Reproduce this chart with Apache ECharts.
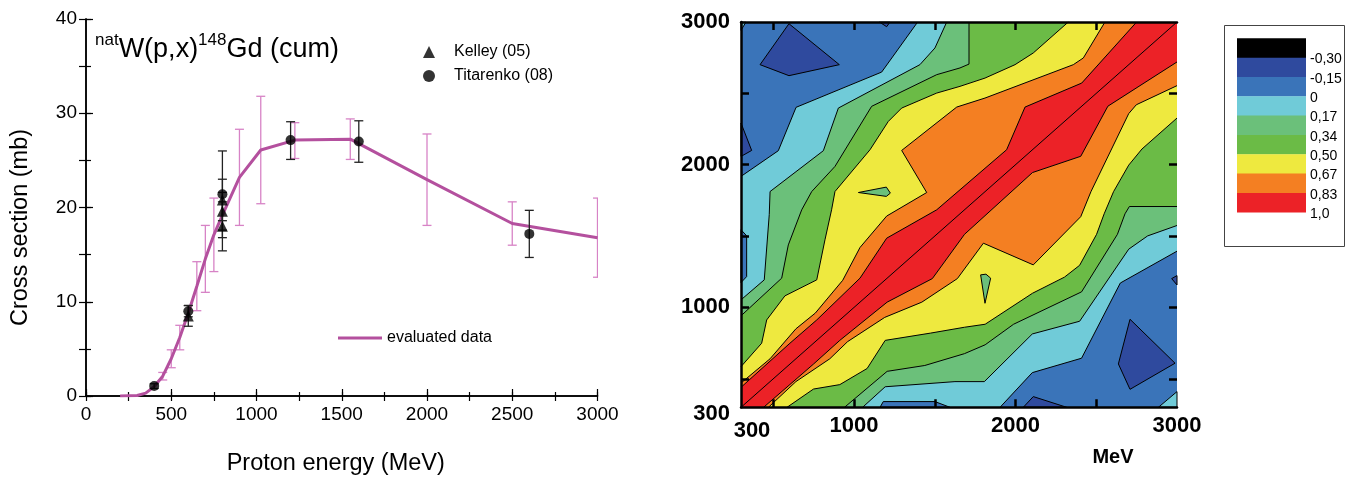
<!DOCTYPE html>
<html><head><meta charset="utf-8">
<script src="https://cdn.jsdelivr.net/npm/echarts@6/dist/echarts.min.js"></script>
<style>html,body{margin:0;padding:0;background:#fff}#c{width:1370px;height:482px}</style>
</head><body><div id="c"></div>
<script>
// ---------- Left panel data ----------
const evalPoints = [[200,0],[300,0.05],[350,0.3],[400,1.0],[450,2.1],[500,3.95],[550,6.2],[600,8.8],[650,11.65],[700,14.55],[750,17.1],[800,19.2],[900,23.2],[1025,26.1],[1225,27.15],[1550,27.25],[2000,22.95],[2500,18.3],[3000,16.8]];
const evalErrors = [[450,1.7,2.5],[500,3.0,4.9],[550,4.9,7.5],[650,9.05,14.25],[700,11.0,18.1],[750,13.2,21.0],[900,18.1,28.3],[1025,20.4,31.8],[1225,25.2,29.0],[1550,25.1,29.4],[2000,18.1,27.8],[2500,16.0,20.6],[3000,12.6,21.0]];
const kelleyPoints = [[600,8.5],[800,20.8],[800,19.6],[800,18.0]];
const kelleyErrors = [[600,7.4,9.6],[800,18.6,23.0],[800,17.6,21.6],[800,15.4,20.6]];
const titarenkoPoints = [[400,1.06],[600,9.0],[800,21.4],[1200,27.15],[1600,27.0],[2600,17.2]];
const titarenkoErrors = [[400,0.8,1.3],[600,8.4,9.6],[800,16.8,26.0],[1200,25.1,29.1],[1600,24.8,29.2],[2600,14.7,19.7]];

// ---------- Right panel data (correlation contours, MeV x MeV) ----------
const levelLabels = ['-0,30','-0,15','0','0,17','0,34','0,50','0,67','0,83','1,0'];
const bandColors = ['#000000','#2F4A9E','#3A74B9','#70CBD8','#6BC07A','#6BBB46','#EEE93F','#F47F22','#EC2227'];
// boundaries: upper-left (ul) and lower-right (lr) lines of each superlevel band
const ul000 = [[300,1918],[531,2098],[641,2402],[1171,2649],[1394,3000]];
const lr000 = [[1904,300],[2104,543],[2409,644],[2649,1171],[3000,1394]];
const ul017 = [[300,1053],[444,1193],[475,1651],[480,1812],[810,2098],[903,2397],[1408,2701],[1501,2818],[1574,3000]];
const lr017 = [[1053,300],[1193,444],[1625,480],[1807,480],[2104,814],[2397,903],[2701,1408],[2818,1501],[3000,1574]];
const ul034 = [[300,941],[552,1205],[593,1438],[676,1684],[738,1812],[882,1988],[1109,2409],[1512,2631],[1656,2678],[1712,2705],[1712,3000]];
const lr034 = [[941,300],[1205,552],[1438,593],[1684,676],[1812,738],[1988,882],[2409,1109],[2631,1512],[2678,1656],[2705,1707],[3000,1707]];
const ul050 = [[300,585],[428,749],[459,912],[572,1081],[769,1193],[820,1474],[861,1684],[882,1812],[1099,2105],[1212,2303],[1295,2397],[1512,2502],[1656,2549],[1811,2607],[1997,2701],[2110,2783],[2327,3000]];
const lr050 = [[585,300],[749,428],[912,459],[1081,572],[1193,769],[1474,820],[1684,861],[1812,882],[2105,1099],[2303,1212],[2397,1295],[2502,1512],[2549,1656],[2607,1811],[2701,1997],[2783,2110],[3000,2327]];
const ul067 = [[300,470],[480,640],[640,850],[760,960],[930,1190],[1037,1420],[1202,1640],[1450,1805],[1295,2100],[1636,2404],[1811,2467],[2358,2701],[2420,2748],[2554,3000]];
const lr067 = [[470,300],[640,480],[850,640],[960,760],[1190,930],[1420,1037],[1640,1202],[1801,1450],[2110,1298],[2404,1636],[2467,1811],[2701,2358],[2748,2420],[3000,2554]];
const ul083 = [[300,440],[603,749],[769,912],[1037,1205],[1202,1485],[1512,1684],[1945,2105],[2059,2404],[2410,2572],[2750,3000]];
const lr083 = [[440,300],[749,603],[912,769],[1205,1037],[1485,1202],[1684,1512],[2105,1945],[2404,2059],[2572,2410],[3000,2720]];
const diagonal = [[300,300],[3000,3000]];
// islands: [band index, outline]
const islands = [
  [3, [[300,2942],[331,3000],[300,3000]]],
  [3, [[2885,300],[3000,410],[3000,300]]],
  [1, [[418,2701],[597,2988],[909,2701],[597,2624]]],
  [1, [[2637,604],[2709,917],[2988,609],[2709,426]]],
  [1, [[300,2292],[366,2100],[300,2058]]],
  [1, [[2048,300],[2110,375],[2317,300]]],
  [1, [[1157,3000],[1202,2967],[1223,3000]]],
  [1, [[3000,1157],[2967,1202],[3000,1223]]],
  [2, [[300,1544],[335,1502],[335,1216],[300,1174]]],
  [2, [[1161,300],[1181,340],[1501,340],[1594,300]]],
  [4, [[1027,1805],[1200,1843],[1225,1801],[1200,1778]]],
  [4, [[1784,1228],[1817,1233],[1846,1205],[1811,1029]]]
];
const contourBands = [[3, ul000, lr000],[4, ul017, lr017],[5, ul034, lr034],[6, ul050, lr050],[7, ul067, lr067],[8, ul083, lr083]];
const rightTicks = [500,1000,1500,2000,2500];
const rightLabels = [300,1000,2000,3000];

// ---------- build ----------
const FONT = 'Liberation Sans, Arial, sans-serif';
const chart = echarts.init(document.getElementById('c'), null, {renderer:'canvas'});
const EVAL_COLOR = '#B4509E', EVAL_ERR = '#D783C6';
const RX = 3, RY = 3; // right-panel axis indices

function errRender(capHalf, color, width) {
  return function (params, api) {
    const x = api.value(0), lo = api.value(1), hi = api.value(2);
    const a = api.coord([x, lo]), b = api.coord([x, hi]);
    const st = {stroke: color, lineWidth: width};
    return {type:'group', children:[
      {type:'line', shape:{x1:a[0],y1:a[1],x2:b[0],y2:b[1]}, style:st},
      {type:'line', shape:{x1:a[0]-capHalf,y1:a[1],x2:a[0]+capHalf,y2:a[1]}, style:st},
      {type:'line', shape:{x1:b[0]-capHalf,y1:b[1],x2:b[0]+capHalf,y2:b[1]}, style:st}
    ]};
  };
}
function polySeries(pts, color) {
  return {type:'custom', xAxisIndex:RX, yAxisIndex:RY, data: pts, silent:true, z:1, clip:true,
    encode:{x:0, y:1}, animation:false,
    renderItem: (params, api) => params.dataIndex === 0 ?
      {type:'polygon', shape:{points: pts.map(p => api.coord(p))}, style:{fill: color}} : null};
}
function lineSeries(pts) {
  return {type:'line', xAxisIndex:RX, yAxisIndex:RY, data: pts, showSymbol:false, symbol:'none', silent:true,
    z:3, animation:false, lineStyle:{color:'#000', width:1}};
}
const series = [
  {name:'evalErr', type:'custom', xAxisIndex:0, yAxisIndex:0, data: evalErrors, encode:{x:0,y:[1,2]}, clip:true, z:2,
   renderItem: errRender(4.5, EVAL_ERR, 1.3), silent:true},
  {name:'evaluated data', type:'line', xAxisIndex:0, yAxisIndex:0, data: evalPoints, showSymbol:false, symbol:'none',
   lineStyle:{color:EVAL_COLOR, width:3}, itemStyle:{color:EVAL_COLOR}, z:3},
  {name:'kErr', type:'custom', xAxisIndex:0, yAxisIndex:0, data: kelleyErrors, encode:{x:0,y:[1,2]}, z:4,
   renderItem: errRender(4.5, '#222', 1.3), silent:true},
  {name:'tErr', type:'custom', xAxisIndex:0, yAxisIndex:0, data: titarenkoErrors, encode:{x:0,y:[1,2]}, z:4,
   renderItem: errRender(4.5, '#222', 1.3), silent:true},
  {name:'Kelley (05)', type:'scatter', xAxisIndex:0, yAxisIndex:0, data: kelleyPoints, symbol:'triangle', symbolSize:11,
   itemStyle:{color:'#000'}, z:5},
  {name:'Titarenko (08)', type:'scatter', xAxisIndex:0, yAxisIndex:0, data: titarenkoPoints, symbol:'circle', symbolSize:10,
   itemStyle:{color:'#000'}, z:5}
];
// contour fills
series.push(polySeries([[300,300],[300,3000],[3000,3000],[3000,300]], bandColors[2]));
contourBands.forEach(([bi, ul, lr]) => {
  series.push(polySeries([[300,300], ...ul, [3000,3000], ...lr.slice().reverse()], bandColors[bi]));
});
islands.forEach(([bi, pts]) => series.push(polySeries(pts, bandColors[bi])));
contourBands.forEach(([bi, ul, lr]) => { series.push(lineSeries(ul)); series.push(lineSeries(lr)); });
islands.forEach(([bi, pts]) => series.push(lineSeries([...pts, pts[0]])));
series.push(lineSeries(diagonal));

const axisLineL = {show:true, lineStyle:{color:'#000', width:1.5}};
const tickL = (len) => ({show:true, inside:true, length:len, lineStyle:{color:'#000', width:1.2}});
const plainFmt = v => String(v);
const rightLabelFmt = v => v === 300 ? '{s|300}' : '{n|' + v + '}';
const boldN = {fontSize:22, fontWeight:'bold', fontFamily:FONT, color:'#000'};

// legend graphic for the correlation colour scale
const legendEls = [{type:'rect', shape:{x:1224.5, y:25.5, width:120, height:221}, style:{fill:'#fff', stroke:'#444', lineWidth:1}}];
bandColors.forEach((c, i) => {
  legendEls.push({type:'rect', shape:{x:1237, y:38.3 + i*19.33, width:69, height:19.6}, style:{fill:c}});
  legendEls.push({type:'text', x:1310, y:38.3 + (i+1)*19.33 + 2, style:{text: levelLabels[i], fontSize:14, fontFamily:FONT, fill:'#000', verticalAlign:'middle', align:'left'}});
});

const option = {
  backgroundColor:'#fff',
  animation:false,
  title:{text:'{sup|nat}{main|W(p,x)}{sup|148}{main|Gd (cum)}', left:95, top:32, padding:0,
    textStyle:{fontWeight:'normal', rich:{
      main:{fontSize:27, fontFamily:FONT, fontWeight:'normal', color:'#000', lineHeight:36},
      sup:{fontSize:17, fontFamily:FONT, fontWeight:'normal', color:'#000', lineHeight:14, verticalAlign:'top'}
    }}},
  legend:[
    {data:['Kelley (05)','Titarenko (08)'], orient:'vertical', left:423, top:44, padding:0, itemWidth:12, itemHeight:12, itemGap:8,
     selectedMode:false, textStyle:{fontSize:16, fontFamily:FONT, color:'#000', padding:[0,0,0,14]}},
    {data:['evaluated data'], left:338, top:330, padding:0, itemWidth:44, itemHeight:3, icon:'rect', selectedMode:false,
     textStyle:{fontSize:16, fontFamily:FONT, color:'#000'}}
  ],
  grid:[
    {left:86, top:19, width:511.5, height:377},
    {left:741, top:22, width:436, height:385.3}
  ],
  xAxis:[
    {gridIndex:0, type:'value', min:0, max:3000, interval:500, position:'bottom', axisLine:axisLineL, axisTick:tickL(7),
     axisLabel:{fontSize:19, fontFamily:FONT, color:'#000', margin:9, formatter:plainFmt}, splitLine:{show:false},
     name:'Proton energy (MeV)', nameLocation:'middle', nameGap:56,
     nameTextStyle:{fontSize:23.5, fontFamily:FONT, color:'#000', padding:[0,12,0,0]}},
    {gridIndex:0, type:'value', min:0, max:3000, interval:250, position:'top', axisLine:axisLineL, axisTick:tickL(5),
     axisLabel:{show:false}, splitLine:{show:false}},
    {gridIndex:0, type:'value', min:0, max:3000, interval:250, position:'bottom', axisLine:{show:false}, axisTick:tickL(4),
     axisLabel:{show:false}, splitLine:{show:false}},
    {gridIndex:1, type:'value', min:300, max:3000, position:'bottom', z:10,
     axisLine:{show:true, lineStyle:{color:'#000', width:2.5}},
     axisTick:{show:true, inside:true, length:8, customValues:rightTicks, lineStyle:{color:'#000', width:2.5}},
     axisLabel:{customValues:rightLabels, margin:8, formatter:rightLabelFmt,
       rich:{n:boldN, s:Object.assign({padding:[5,0,0,22]}, boldN)}},
     splitLine:{show:false},
     name:'MeV', nameLocation:'middle', nameGap:37,
     nameTextStyle:{fontSize:20, fontWeight:'bold', fontFamily:FONT, color:'#000', padding:[0,0,0,308]}},
    {gridIndex:1, type:'value', min:300, max:3000, position:'top', z:10,
     axisLine:{show:true, lineStyle:{color:'#000', width:2.5}},
     axisTick:{show:true, inside:true, length:8, customValues:rightTicks, lineStyle:{color:'#000', width:2.5}},
     axisLabel:{show:false}, splitLine:{show:false}}
  ],
  yAxis:[
    {gridIndex:0, type:'value', min:0, max:40, interval:10, position:'left', axisLine:axisLineL, axisTick:tickL(7),
     axisLabel:{fontSize:19, fontFamily:FONT, color:'#000', margin:9, formatter:plainFmt}, splitLine:{show:false},
     name:'Cross section (mb)', nameLocation:'middle', nameGap:53,
     nameTextStyle:{fontSize:23.5, fontFamily:FONT, color:'#000', padding:[0,40,0,0]}},
    {gridIndex:0, type:'value', min:0, max:40, interval:5, position:'right', axisLine:axisLineL, axisTick:tickL(7),
     axisLabel:{show:false}, splitLine:{show:false}},
    {gridIndex:0, type:'value', min:0, max:40, interval:5, position:'left', axisLine:{show:false}, axisTick:tickL(5),
     axisLabel:{show:false}, splitLine:{show:false}},
    {gridIndex:1, type:'value', min:300, max:3000, position:'left', z:10,
     axisLine:{show:true, lineStyle:{color:'#000', width:2.5}},
     axisTick:{show:true, inside:true, length:8, customValues:rightTicks, lineStyle:{color:'#000', width:2.5}},
     axisLabel:{customValues:rightLabels, margin:11, formatter:rightLabelFmt,
       rich:{n:boldN, s:Object.assign({padding:[14,0,0,0]}, boldN)}},
     splitLine:{show:false}},
    {gridIndex:1, type:'value', min:300, max:3000, position:'right', z:10,
     axisLine:{show:false},
     axisTick:{show:true, inside:true, length:8, customValues:rightTicks, lineStyle:{color:'#000', width:2.5}},
     axisLabel:{show:false}, splitLine:{show:false}}
  ],
  graphic: legendEls,
  series: series
};
chart.setOption(option);
</script></body></html>
